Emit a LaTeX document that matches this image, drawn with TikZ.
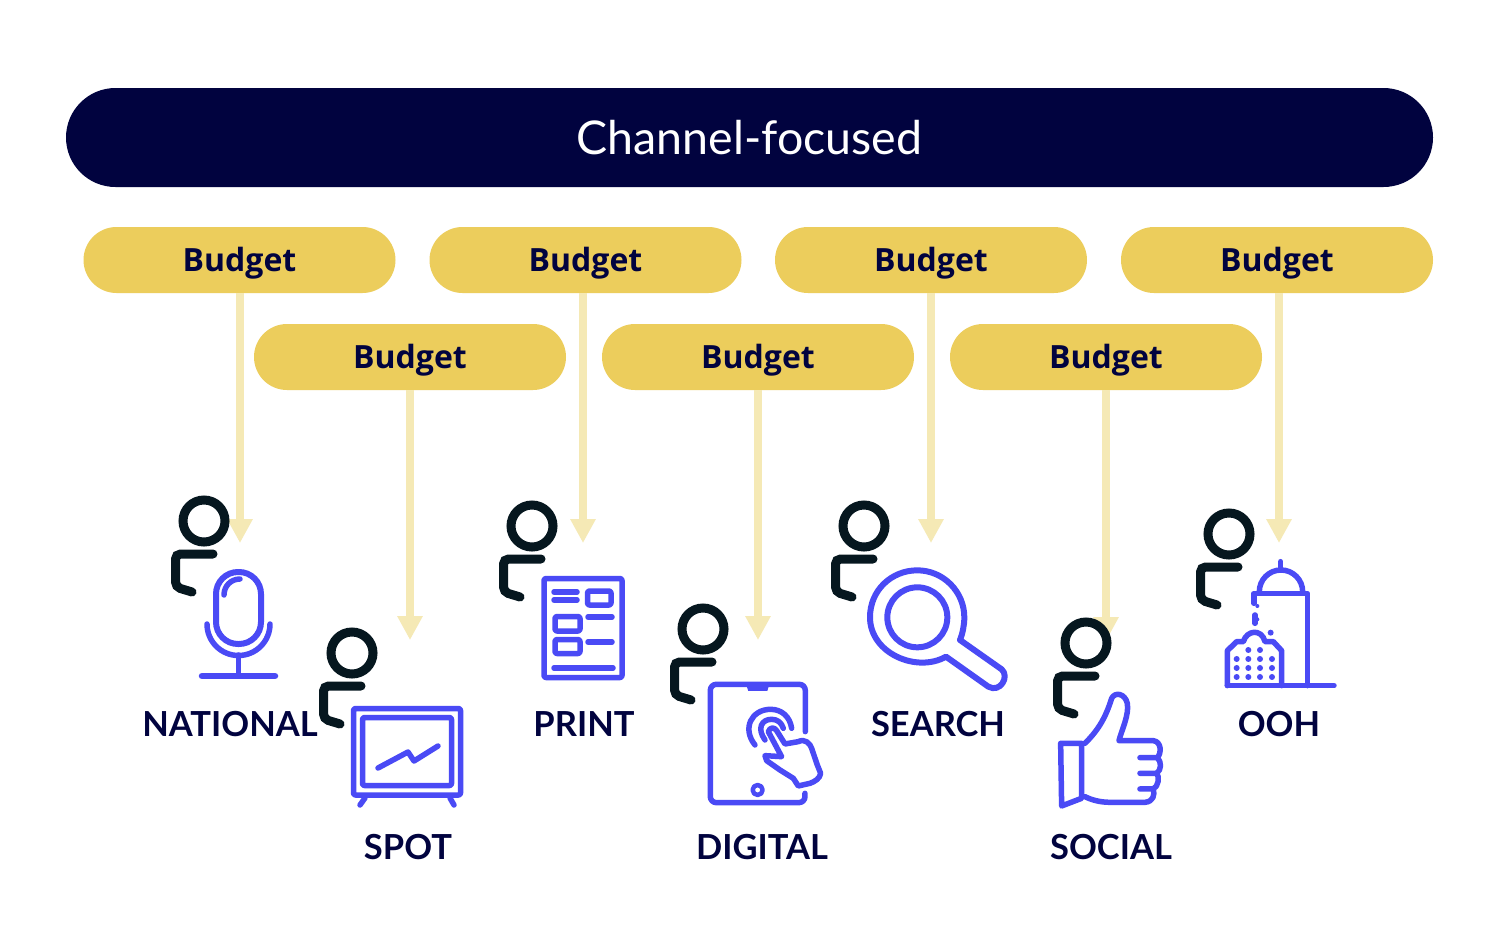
\documentclass[tikz,border=0pt]{standalone}
\usepackage{fontspec}
\setmainfont{Lato}
\newfontfamily\budgetfont{Open Sans}
\usetikzlibrary{arrows.meta}
\definecolor{navy}{HTML}{01033F}
\definecolor{gold}{HTML}{ECCD5C}
\definecolor{pale}{HTML}{F5E9B5}
\definecolor{iconblue}{HTML}{4A4AF5}
\definecolor{ink}{HTML}{06171F}
\tikzset{
  banner/.style={fill=navy,text=white,minimum width=1367pt,minimum height=99pt,rounded corners=49.5pt,inner sep=0pt,outer sep=0pt,font=\fontsize{46.5}{50}\selectfont},
  budgetpill/.style={fill=gold,text=navy,minimum width=312pt,minimum height=66pt,rounded corners=33pt,inner sep=0pt,outer sep=0pt,text height=24pt,text depth=1pt,font=\budgetfont\bfseries\fontsize{32}{36}\selectfont},
  flow/.style={draw=pale,line width=8pt,-{Triangle[length=24pt,width=24pt,color=pale]}},
  channel/.style={text=navy,inner sep=0pt,font=\bfseries\fontsize{34.5}{40}\selectfont},
  icon/.style={draw=iconblue,line width=5.5pt,line cap=round,line join=round},
  iconfill/.style={fill=iconblue,draw=none},
  zoomed/.style={x=0.3333pt,y=-0.3333pt},
  person/.pic={
    \draw[ink,line width=9pt] (0,0) circle (21);
    \draw[ink,line width=9pt,line cap=round,rounded corners=5pt] (9,33) -- (-28.5,33) -- (-28.5,66) -- (-12,71);
  }
}
\begin{document}
\begin{tikzpicture}[x=1pt,y=-1pt]
\useasboundingbox[fill=white] (0,0) rectangle (1492,948);
\node[banner] (top) at (749.5,137.5) {Channel-focused};
\node[budgetpill] (b1) at (239.5,260) {Budget};
\node[budgetpill] (b3) at (585.5,260) {Budget};
\node[budgetpill] (b5) at (931,260) {Budget};
\node[budgetpill] (b7) at (1277,260) {Budget};
\node[budgetpill] (b2) at (410,357) {Budget};
\node[budgetpill] (b4) at (758,357) {Budget};
\node[budgetpill] (b6) at (1106,357) {Budget};
\coordinate (e1) at (240,543);
\coordinate (e2) at (410,640);
\coordinate (e3) at (583,543);
\coordinate (e4) at (758,640);
\coordinate (e5) at (931,543);
\coordinate (e6) at (1106,641);
\coordinate (e7) at (1279,543);
\foreach \i in {1,...,7} \draw[flow] (b\i.south -| e\i) -- (e\i);
\pic at (204,521) {person};
\pic at (352,653) {person};
\pic at (532,526) {person};
\pic at (703,629) {person};
\pic at (864,526) {person};
\pic at (1086,643) {person};
\pic at (1229,534) {person};
% microphone
\draw[icon,line width=6pt,rounded corners=22pt] (216,572) rectangle (261,644);
\draw[icon] (224,595) .. controls (224,586) and (231,579) .. (240,579);
\draw[icon] (207,624) arc[start angle=180,end angle=0,radius=31.5];
\draw[icon] (238.5,655) -- (238.5,676);
\draw[icon,line width=6.5pt] (202,676) -- (275,676);
% television
\draw[icon,rounded corners=2pt] (353.5,708.5) rectangle (460.5,795);
\draw[icon,rounded corners=2pt] (362.5,717.5) rectangle (451.5,785.5);
\draw[icon] (365,798) -- (360,805);
\draw[icon] (450,798) -- (454,805);
\draw[icon] (378,768) -- (408,752) -- (414,761) -- (438,746);
% print
\draw[icon,rounded corners=2pt] (544,578.5) rectangle (622,677.5);
\draw[icon] (554,592) -- (577,592);
\draw[icon] (554,600) -- (577,600);
\draw[icon,rounded corners=2pt] (587.5,591) rectangle (611,605);
\draw[icon,rounded corners=2pt] (555,616.5) rectangle (580,631);
\draw[icon,rounded corners=2pt] (555,639.5) rectangle (580,653.5);
\draw[icon] (588,617) -- (612,617);
\draw[icon] (588,642) -- (612,642);
\draw[icon] (554,668) -- (613,668);
% tablet
\begin{scope}[shift={(490,490)},zoomed]
\draw[icon,rounded corners=6pt] (946,725) -- (946,583) -- (661,583) -- (661,938) -- (945,938) -- (945,910);
\fill[iconblue] (768,583) -- (838,583) -- (832,603) -- (775,603) -- cycle;
\draw[icon,line width=4.5pt] (803,900) circle (15);
\draw[icon] (795,765) .. controls (755,715) and (785,658) .. (842,658) .. controls (875,658) and (900,680) .. (905,715);
\draw[icon] (825,750) .. controls (800,715) and (815,688) .. (845,688) .. controls (862,688) and (875,698) .. (880,715);
\draw[icon] (835,725) .. controls (840,710) and (855,712) .. (860,722) -- (885,762) -- (925,755) .. controls (945,745) and (960,760) .. (965,775) -- (982,825) -- (992,850) .. controls (990,865) and (975,875) .. (960,880) -- (925,888) -- (910,865) -- (870,840) -- (830,812) -- (825,797) -- (875,800) -- cycle;
\end{scope}
% search
\begin{scope}[shift={(820,490)},zoomed]
\draw[icon,line width=6pt] (292,382) circle (90);
\draw[icon,line width=6pt] (378,500) .. controls (290,550) and (150,490) .. (150,382) .. controls (150,300) and (215,241) .. (292,241) .. controls (370,241) and (433,305) .. (433,382) .. controls (433,405) and (428,430) .. (420,450) -- (545,538) .. controls (570,560) and (540,610) .. (505,590) -- cycle;
\end{scope}
% thumb
\begin{scope}[shift={(820,490)},zoomed]
\draw[icon] (722,760) -- (785,760) -- (785,925) -- (725,948) -- cycle;
\draw[icon] (795,760) .. controls (830,725) and (855,690) .. (875,625) .. controls (885,605) and (915,610) .. (922,640) .. controls (928,675) and (905,720) .. (897,752) -- (1000,752) .. controls (1025,755) and (1025,790) .. (1012,803) -- (960,803);
\draw[icon] (1012,803) .. controls (1025,815) and (1025,840) .. (1010,850) -- (960,850);
\draw[icon] (1010,850) .. controls (1020,860) and (1015,890) .. (1000,897) -- (960,897);
\draw[icon] (1000,897) .. controls (1005,915) and (1000,935) .. (975,937) -- (870,937) .. controls (840,937) and (815,930) .. (795,920);
\end{scope}
% building
\begin{scope}[shift={(1180,490)},zoomed]
\draw[icon] (302,215) -- (302,240);
\draw[icon] (238,305) arc[start angle=180,end angle=360,radius=65];
\draw[icon] (222,340) -- (222,310) -- (382,310) -- (382,587);
\draw[icon] (225,375) -- (225,400);
\fill[iconblue] (232,348) circle (6);
\fill[iconblue] (232,388) circle (6);
\draw[icon] (142,587) -- (462,587);
\draw[icon] (142,587) -- (142,482) -- (170,455) -- (190,455) .. controls (200,420) and (245,415) .. (255,455) -- (280,455) -- (305,482) -- (305,587);
\fill[iconblue] (272,428) circle (9);
\foreach \yy in {507,534,561} \foreach \xx in {170,205,240,276} \fill[iconblue] (\xx,\yy) circle (9);
\fill[iconblue] (205,480) circle (9);
\fill[iconblue] (240,480) circle (9);
\end{scope}
\node[channel] (n1) at (230,724) {NATIONAL};
\node[channel] (n2) at (408,847) {SPOT};
\node[channel] (n3) at (584,724) {PRINT};
\node[channel] (n4) at (762,847) {DIGITAL};
\node[channel] (n5) at (938,724) {SEARCH};
\node[channel] (n6) at (1111,847) {SOCIAL};
\node[channel] (n7) at (1279,724) {OOH};
\end{tikzpicture}
\end{document}
